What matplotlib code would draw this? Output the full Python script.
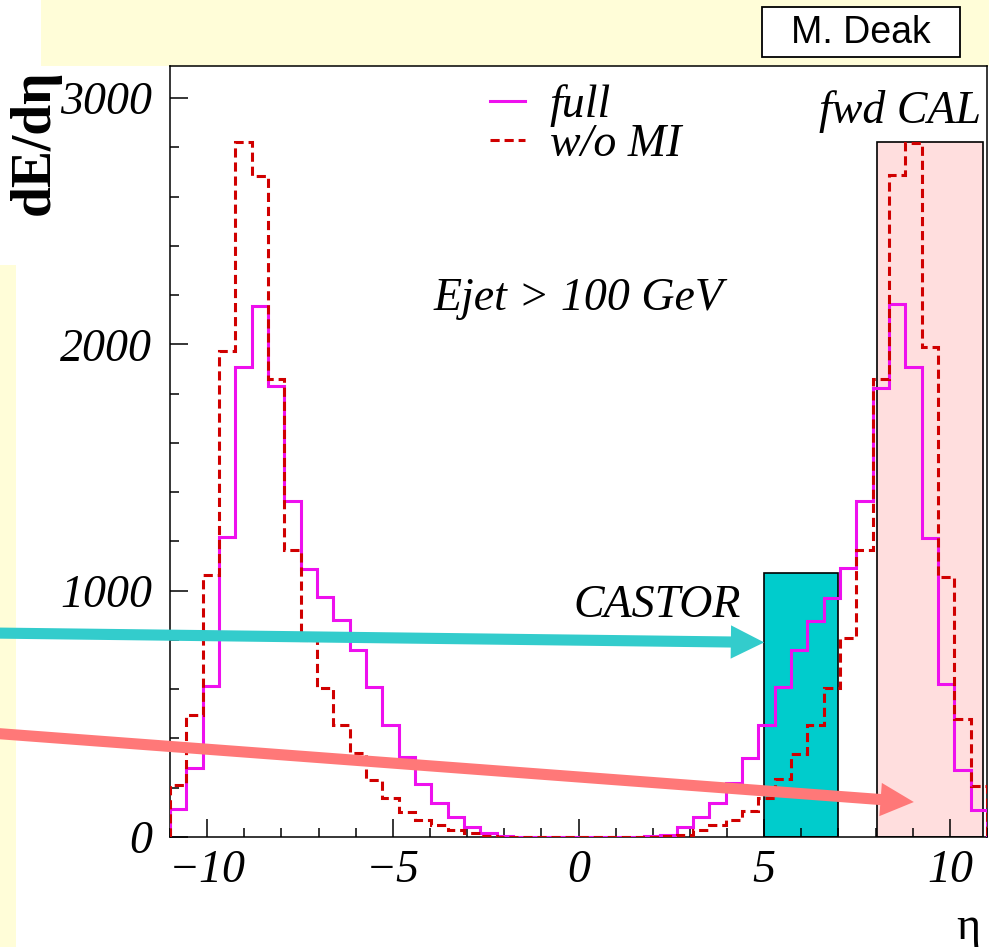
import numpy as np
import matplotlib
matplotlib.use("Agg")
import matplotlib.pyplot as plt
from matplotlib.patches import Rectangle
from matplotlib.lines import Line2D

# ==============================
# DATA
# ==============================

ETA_MIN, ETA_MAX, N_BINS = -11.0, 11.0, 50

# dE/deta, full simulation (magenta, solid)
full = [112, 281, 612, 1218, 1908, 2154, 1831, 1364, 1086, 975,
        880, 761, 607, 454, 323, 215, 137, 82, 42, 15,
        5, 0, 0, 0, 0, 0, 0, 0, 0, 3,
        8, 42, 82, 137, 218, 319, 454, 610, 759, 878,
        972, 1094, 1364, 1824, 2165, 1908, 1212, 623, 272, 110]

# dE/deta, without multiple interactions (red, dashed)
wo_mi = [211, 495, 1063, 1973, 2821, 2683, 1861, 1167, 800, 603,
         454, 339, 231, 157, 103, 69, 49, 28, 15, 5,
         2, 0, 0, 0, 0, 0, 0, 0, 0, 0,
         3, 8, 28, 49, 69, 107, 157, 234, 335, 454,
         603, 806, 1167, 1861, 2686, 2817, 1989, 1056, 481, 207]

# detector acceptance boxes: (eta_lo, eta_hi, height)
castor_box = (5.0, 7.0, 1070)
fwdcal_box = (8.05, 10.9, 2820)

x_ticks = [-10, -5, 0, 5, 10]
x_ticklabels = ["\u221210", "\u22125", "0", "5", "10"]
y_ticks = [0, 1000, 2000, 3000]

# ==============================
# STYLE
# ==============================

SERIF = ["Liberation Serif", "DejaVu Serif"]
YELLOW = "#fffdd8"
MAGENTA = "#ee10ee"
DARKRED = "#d00000"
TEAL_FILL = "#00cccc"
TEAL_ARROW = "#33cccc"
PINK_FILL = "#ffdede"
PINK_ARROW = "#ff7878"

W, H = 989, 947
fig = plt.figure(figsize=(W / 100, H / 100), dpi=100, facecolor=YELLOW)

# white slide canvas areas (figure pixels), kept behind the axes
for (x0, y0, w, h) in [(16, 0, W - 16, H - 66), (0, H - 66, 41, 66), (0, 682, 16, 199)]:
    fig.patches.append(Rectangle((x0 / W, y0 / H), w / W, h / H,
                                 transform=fig.transFigure,
                                 facecolor="white", edgecolor="none", zorder=-5))

ax = fig.add_axes([170 / W, 1 - 837 / H, 817 / W, 771 / H])
ax.set_facecolor("white")
ax.set_xlim(ETA_MIN, ETA_MAX)
ax.set_ylim(0, 3130)

# boxes behind the histograms
ax.add_patch(Rectangle((castor_box[0], 0), castor_box[1] - castor_box[0], castor_box[2],
                       facecolor=TEAL_FILL, edgecolor="black", lw=1.2, zorder=1))
ax.add_patch(Rectangle((fwdcal_box[0], 0), fwdcal_box[1] - fwdcal_box[0], fwdcal_box[2],
                       facecolor=PINK_FILL, edgecolor="black", lw=1.2, zorder=1))

edges = np.linspace(ETA_MIN, ETA_MAX, N_BINS + 1)
ax.stairs(full, edges, baseline=0, color=MAGENTA, lw=2.2, zorder=3)
ax.stairs(wo_mi, edges, baseline=0, color=DARKRED, lw=2.2,
          linestyle=(0, (3, 1.6)), zorder=3)

# axes styling
for side in ["left", "bottom", "top", "right"]:
    ax.spines[side].set_linewidth(1.1)
ax.set_xticks(x_ticks)
ax.set_xticklabels(x_ticklabels)
ax.set_xticks(np.arange(-11, 12, 1), minor=True)
ax.set_yticks(y_ticks)
ax.set_yticks(np.arange(0, 3100, 200), minor=True)
ax.tick_params(which="both", direction="in", width=1.1, top=False, right=False)
ax.tick_params(which="major", length=13)
ax.tick_params(which="minor", length=6.5)
ax.tick_params(axis="y", which="major", pad=13)
ax.tick_params(axis="x", which="major", pad=9)
for lab in ax.get_xticklabels() + ax.get_yticklabels():
    lab.set_family(SERIF)
    lab.set_style("italic")
    lab.set_fontsize(33)

ax.set_ylabel("dE/d\u03b7", family=SERIF, fontweight="bold", fontsize=40, loc="top")
ax.yaxis.set_label_coords(-0.134, 0.995)
ax.set_xlabel("\u03b7", family=SERIF, fontsize=33, loc="right")
ax.xaxis.set_label_coords(0.992, -0.09)

# annotations
txt = dict(family=SERIF, style="italic", fontsize=33, color="black")
ax.text(-3.9, 2138, "Ejet > 100 GeV", ha="left", va="baseline", **txt)
ax.text(4.38, 892, "CASTOR", ha="right", va="baseline", **txt)
ax.text(10.83, 2900, "fwd CAL", ha="right", va="baseline", **txt)

handles = [Line2D([], [], color=MAGENTA, lw=2.2),
           Line2D([], [], color=DARKRED, lw=2.2, linestyle=(0, (3, 1.6)))]
leg = ax.legend(handles, ["full", "w/o MI"], loc="upper left",
                bbox_to_anchor=(0.392, 0.976), frameon=False,
                prop=dict(family=SERIF, style="italic", size=33),
                handlelength=0.75, handletextpad=0.55, labelspacing=-0.08,
                borderpad=0, borderaxespad=0)

# slide arrows
ax.annotate("", xy=(5.0, 790), xycoords="data",
            xytext=(-0.01, 1 - 633 / H), textcoords="figure fraction",
            arrowprops=dict(arrowstyle="simple,head_length=2.4,head_width=2.4,tail_width=0.8",
                            color=TEAL_ARROW, lw=0, shrinkA=0, shrinkB=0,
                            mutation_scale=10),
            zorder=5)
ax.annotate("", xy=(9.03, 142), xycoords="data",
            xytext=(-0.01, 1 - 733 / H), textcoords="figure fraction",
            arrowprops=dict(arrowstyle="simple,head_length=2.4,head_width=2.4,tail_width=0.8",
                            color=PINK_ARROW, lw=0, shrinkA=0, shrinkB=0,
                            mutation_scale=10),
            zorder=5)

# author tag
fig.patches.append(Rectangle((762 / W, 1 - 57 / H), 198 / W, 50 / H,
                             transform=fig.transFigure, facecolor="white",
                             edgecolor="black", lw=1.3, zorder=2))
fig.text(861 / W, 1 - 33 / H, "M. Deak", ha="center", va="center",
         family=["Liberation Sans", "DejaVu Sans"], fontsize=27, zorder=3)

fig.savefig("out.png", dpi=100, facecolor=fig.get_facecolor())
